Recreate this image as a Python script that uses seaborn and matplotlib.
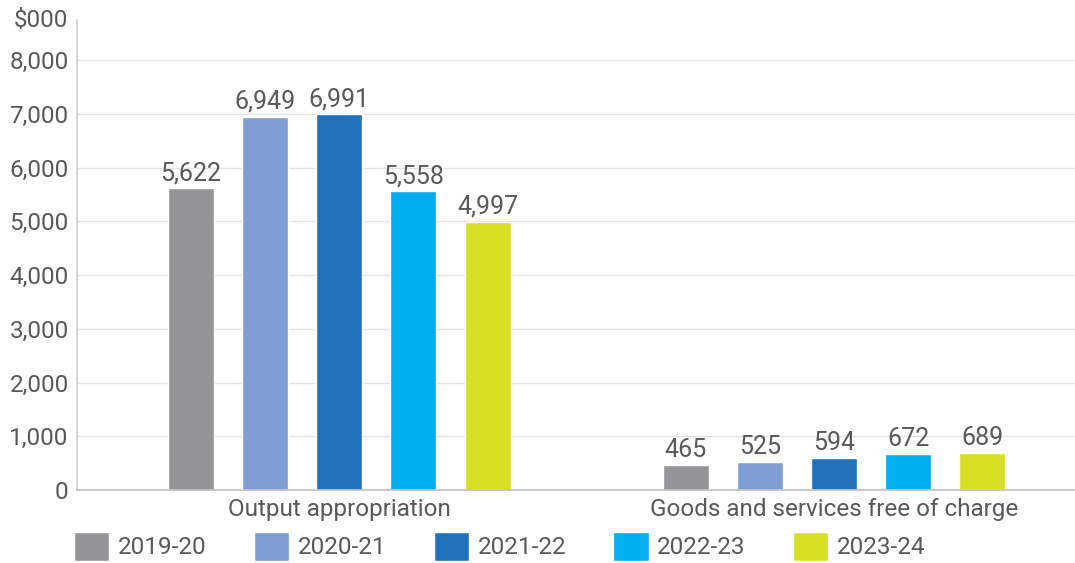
import pandas as pd
import seaborn as sns
from matplotlib import pyplot as plt

# data
categories = ['Output appropriation', 'Goods and services free of charge']
years = ['2019-20', '2020-21', '2021-22', '2022-23', '2023-24']
output_appropriation = [5622, 6949, 6991, 5558, 4997]
goods_services = [465, 525, 594, 672, 689]
colors = ['#939598', '#7F9FD4', '#1F72BB', '#00AEEF', '#D6DF23']

rows = []
for y, a, b in zip(years, output_appropriation, goods_services):
    rows.append({'category': categories[0], 'year': y, 'value': a})
    rows.append({'category': categories[1], 'year': y, 'value': b})
df = pd.DataFrame(rows)

sns.set_theme(style='white')
plt.rcParams['font.family'] = ['Roboto', 'DejaVu Sans']
txt = '#595959'

fig = plt.figure(figsize=(10.75, 5.63), dpi=100)
ax = fig.add_axes([0.0716, 0.1297, 0.9284, 0.835])

sns.barplot(data=df, x='category', y='value', hue='year', order=categories,
            hue_order=years, palette=colors, width=0.75, gap=0.38,
            saturation=1, ax=ax, legend=True)

for c in ax.containers:
    ax.bar_label(c, labels=[f'{v:,.0f}' for v in c.datavalues],
                 fontsize=18, color=txt, padding=2)

ax.set_ylim(0, 8750)
ax.set_xlim(-0.53, 1.487)
ax.set_yticks(range(0, 9000, 1000))
ax.set_yticklabels([f'{v:,}' for v in range(0, 9000, 1000)])
ax.yaxis.grid(True, color='#E4E4E4', linewidth=1)
ax.set_axisbelow(True)
ax.tick_params(axis='y', length=0, pad=6, labelsize=17.5, labelcolor=txt)
ax.tick_params(axis='x', length=0, pad=6, labelsize=17.5, labelcolor=txt)
ax.set_xlabel('')
ax.set_ylabel('')
for s in ['top', 'right']:
    ax.spines[s].set_visible(False)
ax.spines['left'].set_color('#D0D0D0')
ax.spines['bottom'].set_color('#C0C0C0')
ax.spines['left'].set_linewidth(1.2)
ax.spines['bottom'].set_linewidth(1.2)

ax.annotate('$000', xy=(0, 1), xycoords='axes fraction', xytext=(-9, -1),
            textcoords='offset pixels', ha='right', va='center',
            fontsize=17.5, color=txt)

handles, labels = ax.get_legend_handles_labels()
ax.get_legend().remove()
fig.legend(handles, labels, ncol=5, loc='lower left',
           bbox_to_anchor=(0.069, 0.004), frameon=False, fontsize=17.5,
           labelcolor=txt, handlelength=1.45, handleheight=1.45,
           handletextpad=0.35, columnspacing=1.95, borderpad=0,
           borderaxespad=0)

fig.savefig('out.png', dpi=100)
